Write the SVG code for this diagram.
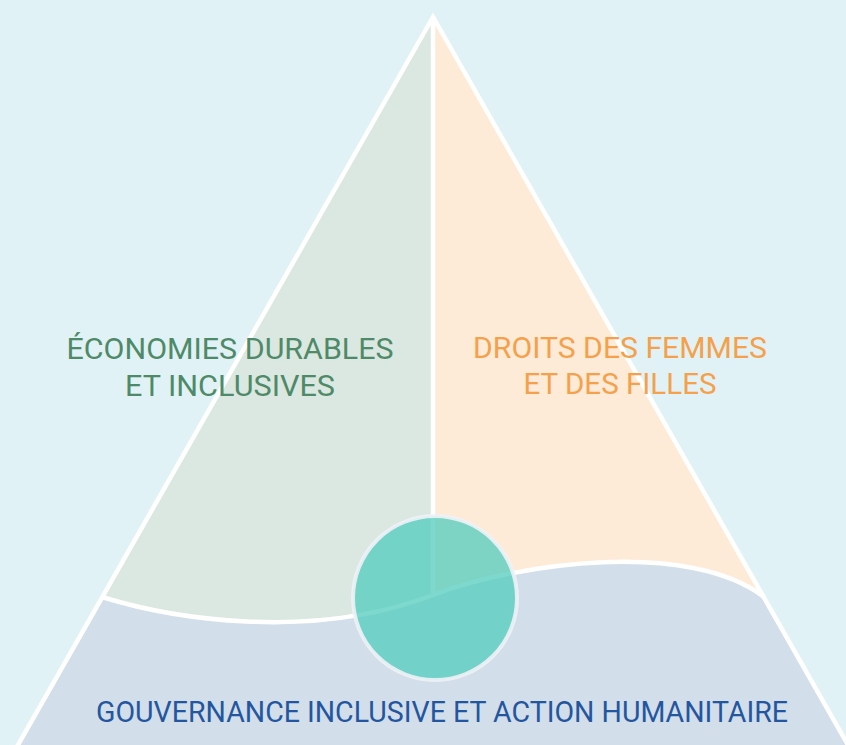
<svg xmlns="http://www.w3.org/2000/svg" width="846" height="745" viewBox="0 0 846 745">
  <style>
    .lbl { font-family: Roboto, "Liberation Sans", sans-serif; font-size: 30px; font-weight: 400; text-anchor: middle; }
    .line { fill: none; stroke: #ffffff; stroke-width: 4.5; stroke-linejoin: miter; }
  </style>
  <rect x="0" y="0" width="846" height="745" fill="#e0f2f5"/>

  <g id="zone-gouvernance">
    <path d="M102,597 C170,618 310,642 433,595 C520,562 690,540 764,597 L850,752 L14,752 Z" fill="#d2dee9"/>
  </g>
  <g id="zone-economies">
    <path d="M433,17 L102,597 C170,618 310,642 433,595 Z" fill="#dbe7e1"/>
  </g>
  <g id="zone-droits">
    <path d="M433,17 L433,595 C520,562 690,540 764,597 Z" fill="#fdebd8"/>
  </g>

  <g id="connectors">
    <path class="line" d="M14,752 L433,17 L852,752"/>
    <path class="line" d="M433,17 L433,595"/>
    <path class="line" d="M102,597 C170,618 310,642 433,595 C520,562 690,540 764,597"/>
  </g>

  <g id="centre">
    <circle cx="435" cy="598" r="82" fill="#52ccbe" fill-opacity="0.75" stroke="#eef2f6" stroke-opacity="0.9" stroke-width="4"/>
  </g>

  <g id="label-economies">
    <text class="lbl" x="230" y="359" fill="#4e8a68" textLength="327" lengthAdjust="spacingAndGlyphs">ÉCONOMIES DURABLES</text>
    <text class="lbl" x="230" y="396" fill="#4e8a68" textLength="210" lengthAdjust="spacingAndGlyphs">ET INCLUSIVES</text>
  </g>
  <g id="label-droits">
    <text class="lbl" x="620" y="358" fill="#f5a04a" textLength="294" lengthAdjust="spacingAndGlyphs">DROITS DES FEMMES</text>
    <text class="lbl" x="620" y="394" fill="#f5a04a" textLength="193" lengthAdjust="spacingAndGlyphs">ET DES FILLES</text>
  </g>
  <g id="label-gouvernance">
    <text class="lbl" x="442" y="722" fill="#2456a0" textLength="692" lengthAdjust="spacingAndGlyphs">GOUVERNANCE INCLUSIVE ET ACTION HUMANITAIRE</text>
  </g>
</svg>
